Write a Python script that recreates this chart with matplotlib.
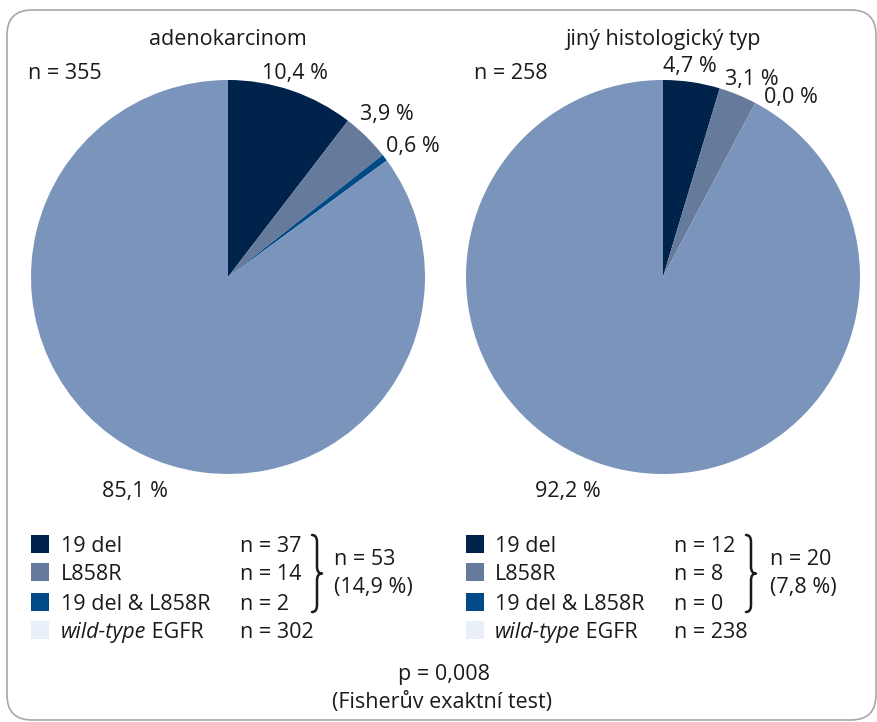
import matplotlib
matplotlib.use("Agg")
import matplotlib.pyplot as plt
from matplotlib.patches import FancyBboxPatch, Rectangle, PathPatch
from matplotlib.path import Path

plt.rcParams['font.family'] = ['Open Sans', 'DejaVu Sans']

# EGFR mutation groups
groups = ['19 del', 'L858R', '19 del & L858R', 'wild-type EGFR']
adeno_counts = [37, 14, 2, 302]
other_counts = [12, 8, 0, 238]
titles = ['adenokarcinom', 'jiný histologický typ']
p_text = 'p = 0,008'
test_text = '(Fisherův exaktní test)'

pie_colors = ['#00234b', '#667a9b', '#004a87', '#7b94bc']
key_colors = ['#00234b', '#667a9b', '#004a87', '#e8eff8']
txt = '#1a1a1a'
FS = 15.5

W, H = 878, 722
fig = plt.figure(figsize=(W / 100, H / 100), dpi=100)

# full-figure axes in pixel units for text, legend and frame
bg = fig.add_axes([0, 0, 1, 1])
bg.set_xlim(0, W)
bg.set_ylim(H, 0)
bg.axis('off')

frame = FancyBboxPatch((7, 10), 869, 710, boxstyle='round,pad=0,rounding_size=25',
                       fc='none', ec='#a8a8a8', lw=1.2)
bg.add_patch(frame)


def fmt(v):
    return f'{v:.1f}'.replace('.', ',')


def brace(x0, y0, y1, w=10):
    xm = x0 + w / 2
    x1 = x0 + w
    ym = (y0 + y1) / 2
    k = (y1 - y0) * 0.09
    verts = [(x0, y0), (xm, y0), (xm, y0 + k),
             (xm, ym - k),
             (xm, ym), (x1, ym),
             (xm, ym), (xm, ym + k),
             (xm, y1 - k),
             (xm, y1), (x0, y1)]
    codes = [Path.MOVETO, Path.CURVE3, Path.CURVE3,
             Path.LINETO,
             Path.CURVE3, Path.CURVE3,
             Path.CURVE3, Path.CURVE3,
             Path.LINETO,
             Path.CURVE3, Path.CURVE3]
    bg.add_patch(PathPatch(Path(verts, codes), fc='none', ec=txt, lw=1.8,
                           capstyle='round', joinstyle='round'))


# per-pie layout: centre x, label anchors (centre x, baseline y), legend columns
panels = [
    dict(counts=adeno_counts, title=titles[0], cx=228,
         labels=[(295, 79), (387, 120), (413, 152), (135, 497)], n_pos=(65, 79),
         key_x=31, name_x=61, n_x=240, brace_x=312, sum_x=334),
    dict(counts=other_counts, title=titles[1], cx=663,
         labels=[(690, 72), (752, 85), (791, 103), (568, 497)], n_pos=(511, 79),
         key_x=466, name_x=495, n_x=674, brace_x=746, sum_x=770),
]
cy, r = 277, 197
rows = [552, 580, 610, 638]

for p in panels:
    counts = p['counts']
    total = sum(counts)
    ax = fig.add_axes([(p['cx'] - r) / W, (H - cy - r) / H, 2 * r / W, 2 * r / H])
    ax.pie(counts, colors=pie_colors, startangle=90, counterclock=False,
           radius=1, wedgeprops=dict(linewidth=0))
    ax.set_xlim(-1, 1)
    ax.set_ylim(-1, 1)
    ax.axis('off')

    bg.text(p['cx'], 45, p['title'], ha='center', va='baseline', fontsize=FS, color=txt)
    bg.text(*p['n_pos'], f'n = {total}', ha='center', va='baseline', fontsize=FS, color=txt)
    for c, (lx, ly) in zip(counts, p['labels']):
        bg.text(lx, ly, f'{fmt(c / total * 100)} %', ha='center', va='baseline',
                fontsize=FS, color=txt)

    # legend
    for i, (g, c) in enumerate(zip(groups, counts)):
        y = rows[i]
        bg.add_patch(Rectangle((p['key_x'], y - 17), 18, 18, fc=key_colors[i], ec='none'))
        if g.startswith('wild-type'):
            t = bg.text(p['name_x'], y, 'wild-type', ha='left', va='baseline',
                        fontsize=FS, color=txt, style='italic')
            bg.annotate(' EGFR', xy=(1, 0), xycoords=t, ha='left', va='bottom',
                        fontsize=FS, color=txt)
        else:
            bg.text(p['name_x'], y, g, ha='left', va='baseline', fontsize=FS, color=txt)
        bg.text(p['n_x'], y, f'n = {c}', ha='left', va='baseline', fontsize=FS, color=txt)

    mutated = sum(counts[:3])
    brace(p['brace_x'], 535, 612)
    bg.text(p['sum_x'], 565, f'n = {mutated}', ha='left', va='baseline', fontsize=FS, color=txt)
    bg.text(p['sum_x'], 593, f'({fmt(mutated / total * 100)} %)', ha='left', va='baseline',
            fontsize=FS, color=txt)

bg.text(444, 680, p_text, ha='center', va='baseline', fontsize=FS, color=txt)
bg.text(442, 708, test_text, ha='center', va='baseline', fontsize=FS, color=txt)

fig.savefig('out.png', dpi=100)
